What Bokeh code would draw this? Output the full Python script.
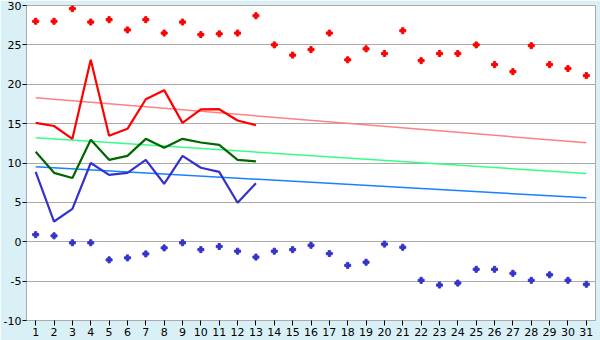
from bokeh.plotting import figure
from bokeh.models import Range1d, FixedTicker
from bokeh.embed import file_html
from bokeh.resources import INLINE

days = list(range(1, 32))
max_points = [28.0, 28.0, 29.6, 27.9, 28.2, 26.9, 28.2, 26.5, 27.9, 26.3,
              26.4, 26.5, 28.7, 25.0, 23.7, 24.4, 26.5, 23.1, 24.5, 23.9,
              26.8, 23.0, 23.9, 23.9, 25.0, 22.5, 21.6, 24.9, 22.5, 22.0, 21.1]
min_points = [0.9, 0.75, -0.13, -0.13, -2.3, -2.05, -1.54, -0.78, -0.13, -1.0,
              -0.6, -1.2, -1.95, -1.2, -1.0, -0.45, -1.5, -3.0, -2.6, -0.3,
              -0.7, -4.9, -5.5, -5.25, -3.5, -3.5, -4.0, -4.9, -4.2, -4.9, -5.4]

line_days = list(range(1, 14))
red_line = [15.1, 14.7, 13.07, 23.1, 13.45, 14.34, 18.1, 19.25, 15.1, 16.8, 16.83, 15.4, 14.8]
green_line = [11.42, 8.75, 8.1, 12.95, 10.4, 10.9, 13.07, 11.93, 13.07, 12.6, 12.3, 10.4, 10.2]
blue_line = [8.88, 2.57, 4.18, 10.0, 8.5, 8.75, 10.4, 7.36, 10.9, 9.4, 8.88, 4.95, 7.43]

trend_days = [1, 31]
red_trend = [18.28, 12.56]
green_trend = [13.2, 8.67]
blue_trend = [9.52, 5.58]

y_ticks = [-10, -5, 0, 5, 10, 15, 20, 25, 30]

p = figure(width=600, height=340, output_backend="svg", toolbar_location=None,
           x_range=Range1d(0.5, 31.5), y_range=Range1d(-10, 30),
           min_border_left=26, min_border_right=5, min_border_top=5, min_border_bottom=20)
p.border_fill_color = "#d9f0f7"
p.background_fill_color = "white"
p.outline_line_color = "#aaaaaa"

p.xgrid.visible = False
p.ygrid.grid_line_color = "#aaaaaa"
p.ygrid.ticker = FixedTicker(ticks=y_ticks)

p.xaxis.ticker = FixedTicker(ticks=days)
p.yaxis.ticker = FixedTicker(ticks=y_ticks)
p.yaxis.major_label_overrides = {t: str(t) for t in y_ticks}
for ax in (p.xaxis[0], p.yaxis[0]):
    ax.axis_line_color = "#aaaaaa"
    ax.major_tick_line_color = "black"
    ax.minor_tick_line_color = None
    ax.major_tick_in = 0
    ax.major_label_text_font = "DejaVu Sans"
    ax.major_label_text_font_size = "11px"
    ax.major_label_text_color = "black"
p.xaxis.major_tick_out = 5
p.xaxis.major_label_standoff = 2
p.yaxis.major_tick_out = 4
p.yaxis.major_label_standoff = 1

p.line(trend_days, red_trend, line_color="#ff8080", line_width=1.5)
p.line(trend_days, green_trend, line_color="#33ff88", line_width=1.5)
p.line(trend_days, blue_trend, line_color="#1a80ff", line_width=1.5)

p.line(line_days, red_line, line_color="#ff0000", line_width=2.2)
p.line(line_days, green_line, line_color="#006600", line_width=2.2)
p.line(line_days, blue_line, line_color="#3333cc", line_width=2.2)

p.scatter(days, max_points, marker="plus", size=6, fill_color="#ff0000", line_color="#ff0000", line_width=1)
p.scatter(days, min_points, marker="plus", size=6, fill_color="#3333cc", line_color="#3333cc", line_width=1)

open("out.html", "w").write(file_html(p, INLINE))
